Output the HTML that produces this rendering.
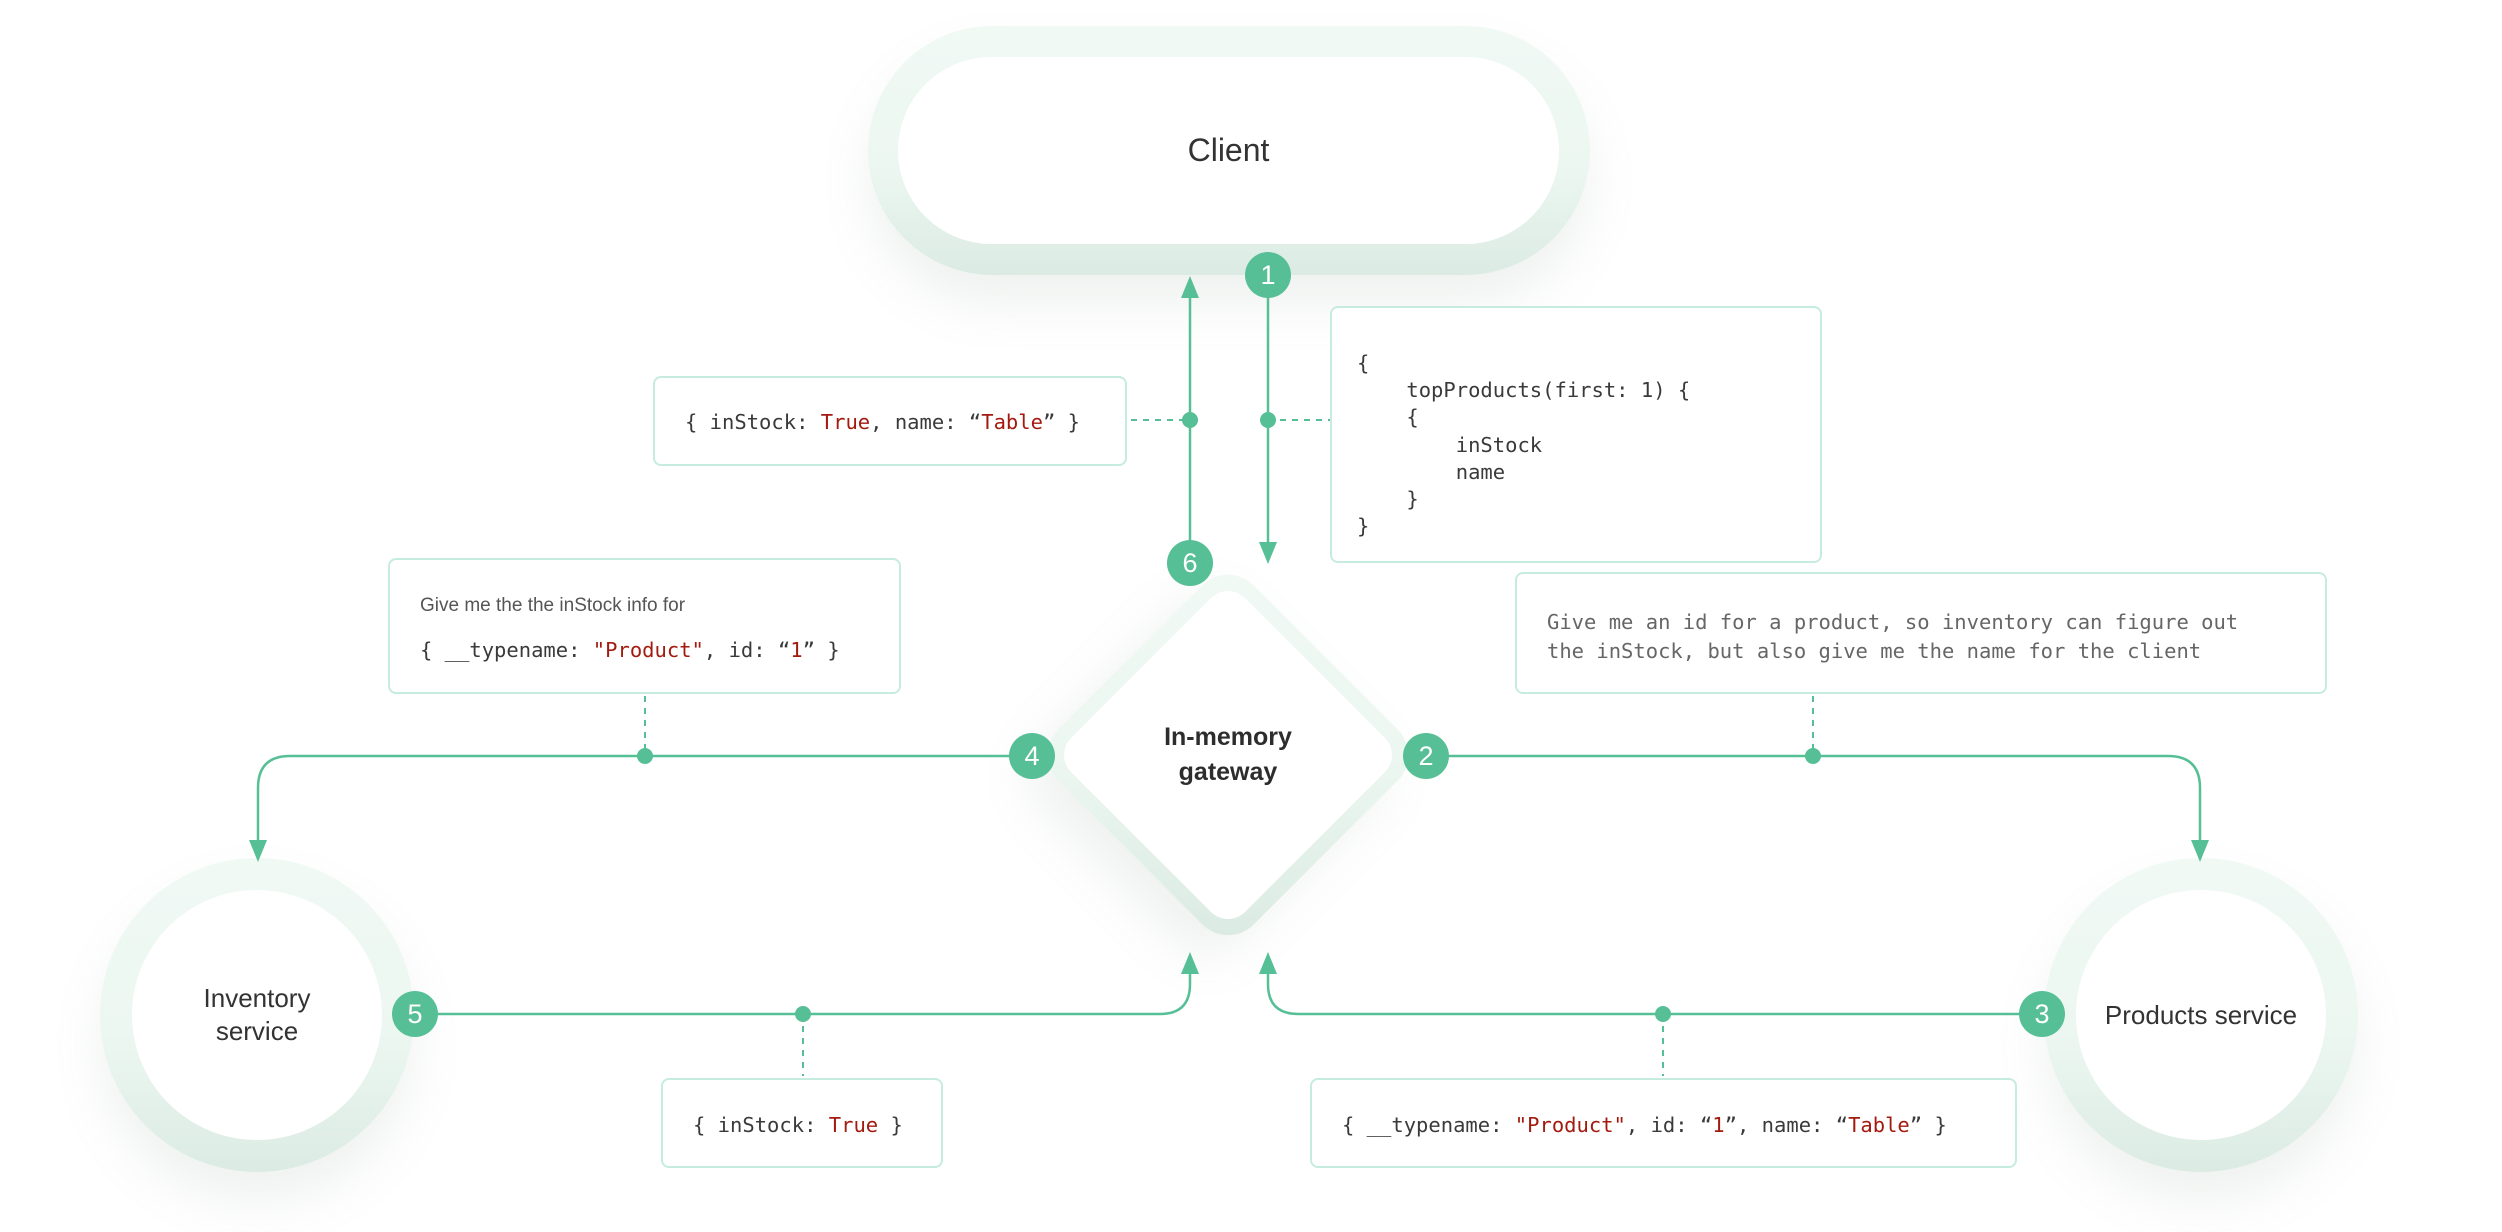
<!DOCTYPE html>
<html><head><meta charset="utf-8"><style>
html,body{margin:0;padding:0;background:#fff;}
body{width:2502px;height:1232px;position:relative;overflow:hidden;font-family:"Liberation Sans",sans-serif;}
.abs{position:absolute;}
.ring{position:absolute;background:linear-gradient(180deg,#f0f9f4 0%,#edf7f2 55%,#dbebe3 100%);box-shadow:0 30px 50px rgba(120,150,135,0.12);}
.inner{position:absolute;background:#fff;display:flex;align-items:center;justify-content:center;text-align:center;color:#333;}
.box{position:absolute;border:2.5px solid #c6ecde;border-radius:8px;background:#fff;box-sizing:border-box;}
.mono{font-family:"DejaVu Sans Mono","Liberation Mono",monospace;font-size:20.5px;color:#3a3a3a;white-space:pre;}
.r{color:#a31a0f;}
.badge{position:absolute;width:46px;height:46px;border-radius:50%;background:#57bf96;color:#fff;font-size:27px;line-height:46px;text-align:center;}
</style></head><body>

<!-- Client pill -->
<div class="ring" style="left:868px;top:26px;width:722px;height:249px;border-radius:125px;"></div>
<div class="inner" style="left:898px;top:57px;width:661px;height:187px;border-radius:94px;font-size:32px;">Client</div>

<!-- Inventory circle -->
<div class="ring" style="left:100px;top:858px;width:314px;height:314px;border-radius:50%;"></div>
<div class="inner" style="left:132px;top:890px;width:250px;height:250px;border-radius:50%;font-size:26px;line-height:33px;">Inventory<br>service</div>

<!-- Products circle -->
<div class="ring" style="left:2044px;top:858px;width:314px;height:314px;border-radius:50%;"></div>
<div class="inner" style="left:2076px;top:890px;width:250px;height:250px;border-radius:50%;font-size:26px;">Products service</div>

<!-- Diamond -->
<div class="ring" style="left:1090px;top:617px;width:276px;height:276px;border-radius:36px;transform:rotate(45deg);background:linear-gradient(135deg,#f0f9f4 0%,#edf7f2 50%,#d9eae2 100%);"></div>
<div class="abs" style="left:1105px;top:632px;width:246px;height:246px;border-radius:24px;background:#fff;transform:rotate(45deg);"></div>
<div class="abs" style="left:1128px;top:720px;width:200px;text-align:center;font-size:25px;font-weight:bold;line-height:35px;color:#2d2d2d;">In-memory<br>gateway</div>

<!-- Boxes -->
<div class="box" style="left:653px;top:376px;width:474px;height:90px;"><div class="mono abs" style="left:30px;top:32px;">{ inStock: <span class="r">True</span>, name: “<span class="r">Table</span>” }</div></div>

<div class="box" style="left:1330px;top:306px;width:492px;height:257px;"><div class="mono abs" style="left:25px;top:42px;line-height:27.2px;">{
    topProducts(first: 1) {
    {
        inStock
        name
    }
}</div></div>

<div class="box" style="left:388px;top:558px;width:513px;height:136px;">
<div class="abs" style="left:30px;top:35px;font-size:19px;color:#555;">Give me the the inStock info for</div>
<div class="mono abs" style="left:30px;top:78px;">{ __typename: <span class="r">"Product"</span>, id: “<span class="r">1</span>” }</div></div>

<div class="box" style="left:1515px;top:572px;width:812px;height:122px;"><div class="mono abs" style="left:30px;top:34px;line-height:29px;color:#666;">Give me an id for a product, so inventory can figure out
the inStock, but also give me the name for the client</div></div>

<div class="box" style="left:661px;top:1078px;width:282px;height:90px;"><div class="mono abs" style="left:30px;top:33px;">{ inStock: <span class="r">True</span> }</div></div>

<div class="box" style="left:1310px;top:1078px;width:707px;height:90px;"><div class="mono abs" style="left:30px;top:33px;">{ __typename: <span class="r">"Product"</span>, id: “<span class="r">1</span>”, name: “<span class="r">Table</span>” }</div></div>

<!-- Connectors -->
<svg class="abs" style="left:0;top:0;" width="2502" height="1232" viewBox="0 0 2502 1232">
<g fill="none" stroke="#57bf96" stroke-width="2.5">
<line x1="1190" y1="545" x2="1190" y2="296"/>
<line x1="1268" y1="290" x2="1268" y2="544"/>
<path d="M1032 756 H290 Q258 756 258 788 V840"/>
<path d="M1426 756 H2168 Q2200 756 2200 788 V840"/>
<path d="M415 1014 H1160 Q1190 1014 1190 984 V972"/>
<path d="M2042 1014 H1298 Q1268 1014 1268 984 V972"/>
</g>
<g fill="none" stroke="#57bf96" stroke-width="2" stroke-dasharray="6 6">
<line x1="1131" y1="420" x2="1190" y2="420"/>
<line x1="1268" y1="420" x2="1330" y2="420"/>
<line x1="645" y1="696" x2="645" y2="756"/>
<line x1="1813" y1="696" x2="1813" y2="756"/>
<line x1="803" y1="1014" x2="803" y2="1076"/>
<line x1="1663" y1="1014" x2="1663" y2="1076"/>
</g>
<g fill="#57bf96">
<polygon points="1190,276 1181,298 1199,298"/>
<polygon points="1268,564 1259,542 1277,542"/>
<polygon points="258,862 249,840 267,840"/>
<polygon points="2200,862 2191,840 2209,840"/>
<polygon points="1190,952 1181,974 1199,974"/>
<polygon points="1268,952 1259,974 1277,974"/>
<circle cx="1190" cy="420" r="8"/>
<circle cx="1268" cy="420" r="8"/>
<circle cx="645" cy="756" r="8"/>
<circle cx="1813" cy="756" r="8"/>
<circle cx="803" cy="1014" r="8"/>
<circle cx="1663" cy="1014" r="8"/>
</g>
</svg>

<div class="badge" style="left:1245px;top:252px;">1</div>
<div class="badge" style="left:1403px;top:733px;">2</div>
<div class="badge" style="left:2019px;top:991px;">3</div>
<div class="badge" style="left:1009px;top:733px;">4</div>
<div class="badge" style="left:392px;top:991px;">5</div>
<div class="badge" style="left:1167px;top:540px;">6</div>
</body></html>
